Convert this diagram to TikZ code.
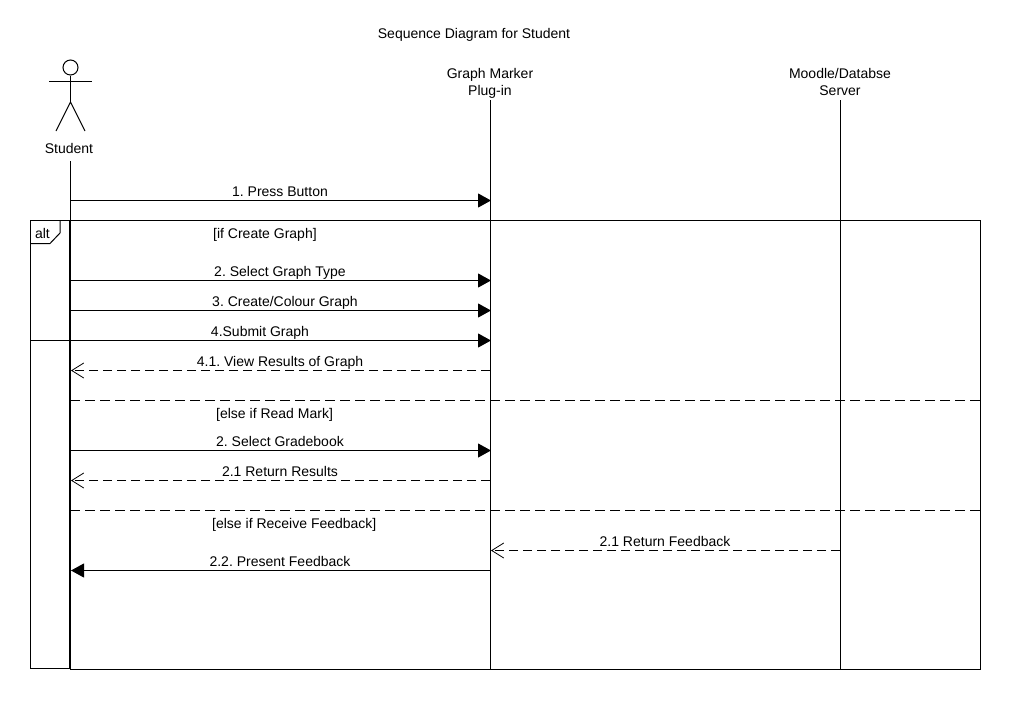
\documentclass[tikz,border=0pt]{standalone}
\usepackage{fontspec}
\setmainfont{Liberation Sans}
\usetikzlibrary{arrows.meta,shapes.geometric}
\tikzset{
  lbl/.style={inner sep=0pt, font=\fontsize{14}{16.5}\selectfont\frenchspacing},
  lane/.style={line width=1pt, black},
  call/.style={lane, -{Triangle[length=13pt,width=14pt]}},
  reply/.style={lane, dash pattern=on 9pt off 5pt, -{Straight Barb[length=12pt,width=15pt,line width=0.8pt]}},
  divider/.style={lane, dash pattern=on 10pt off 5pt}
}

\begin{document}
\begin{tikzpicture}[x=1pt, y=-1pt]
        \useasboundingbox (0, 0) rectangle (1020, 710);

        \node[lbl, anchor=base] (title) at (474, 38) {Sequence Diagram for Student};

        % actor
        \node[circle, draw, line width=1pt, minimum size=15pt, inner sep=0pt] (head) at (70.5, 67.5) {};
        \coordinate (hip) at (70.5, 102);
        \coordinate (armL) at (49, 81);
        \coordinate (armR) at (92, 81);
        \coordinate (footL) at (56, 131);
        \coordinate (footR) at (85, 131);
        \draw[lane] (head.south) -- (hip);
        \draw[lane] (armL) -- (armR);
        \draw[lane] (footL) -- (hip) -- (footR);
        \node[lbl, anchor=base] (student) at (69, 153) {Student};

        % lifelines
        \node[lbl, align=center] (plugin) at (490, 83.5) {Graph Marker\\Plug-in};
        \node[lbl, align=center] (moodle) at (840, 82) {Moodle/Databse\\Server};
        \coordinate (studentTop) at (70, 161);
        \coordinate (studentBot) at (70, 670);
        \coordinate (pluginTop) at (490.5, 100);
        \coordinate (pluginBot) at (490.5, 670);
        \coordinate (moodleTop) at (840.5, 100);
        \coordinate (moodleBot) at (840.5, 670);
        \draw[lane] (studentTop) -- (studentBot);
        \draw[lane] (pluginTop) -- (pluginBot);
        \draw[lane] (moodleTop) -- (moodleBot);

        % alt frame
        \coordinate (frameA) at (30.5, 220.5);
        \coordinate (frameB) at (980.5, 220.5);
        \coordinate (frameC) at (980.5, 669.5);
        \coordinate (frameD) at (70, 669.5);
        \coordinate (frameE) at (30.5, 668.5);
        \coordinate (frameF) at (70, 668.5);
        \draw[lane] (frameF) -- (frameE) -- (frameA) -- (frameB) -- (frameC) -- (frameD);
        \draw[line width=2pt] (70, 220) -- (70, 669);
        \coordinate (tabA) at (60, 220.5);
        \coordinate (tabB) at (60, 233);
        \coordinate (tabC) at (50, 243.5);
        \coordinate (tabD) at (30.5, 243.5);
        \draw[lane] (tabA) -- (tabB) -- (tabC) -- (tabD);
        \node[lbl, anchor=base] (alt) at (42.5, 238) {alt};
        \coordinate (altCut) at (30.5, 340.5);
        \coordinate (altCutEnd) at (70, 340.5);
        \draw[lane] (altCut) -- (altCutEnd);

        % guards
        \node[lbl, anchor=base west] (guardA) at (213, 238) {[if Create Graph]};
        \node[lbl, anchor=base west] (guardB) at (216, 418) {[else if Read Mark]};
        \node[lbl, anchor=base west] (guardC) at (212, 528) {[else if Receive Feedback]};

        % dividers
        \foreach \y [count=\i] in {400.5, 510.5} {
          \coordinate (divL\i) at (70, \y);
          \coordinate (divR\i) at (980, \y);
          \draw[divider] (divL\i) -- (divR\i);
        }

        % calls from student to plug-in
        \foreach \y/\x/\txt [count=\i] in {
            200.5/280/{1. Press Button},
            280.5/280/{2. Select Graph Type},
            310.5/285/{3. Create/Colour Graph},
            340.5/260/{4.Submit Graph},
            450.5/280/{2. Select Gradebook}} {
          \coordinate (callS\i) at (70, \y);
          \coordinate (callP\i) at (491, \y);
          \draw[call] (callS\i) -- (callP\i);
          \node[lbl, anchor=base] (callT\i) at (\x, \y-4.5) {\txt};
        }

        % replies
        \foreach \y/\txt [count=\i] in {
            370.5/{4.1. View Results of Graph},
            480.5/{2.1 Return Results}} {
          \coordinate (backP\i) at (490, \y);
          \coordinate (backS\i) at (71, \y);
          \draw[reply] (backP\i) -- (backS\i);
          \node[lbl, anchor=base] (backT\i) at (280, \y-4.5) {\txt};
        }

        \coordinate (fbM) at (840, 550.5);
        \coordinate (fbP) at (491, 550.5);
        \draw[reply] (fbM) -- (fbP);
        \node[lbl, anchor=base] (fbT) at (665, 546) {2.1 Return Feedback};

        \coordinate (showP) at (490, 570.5);
        \coordinate (showS) at (71, 570.5);
        \draw[call] (showP) -- (showS);
        \node[lbl, anchor=base] (showT) at (280, 566) {2.2. Present Feedback};

      \end{tikzpicture}
\end{document}
